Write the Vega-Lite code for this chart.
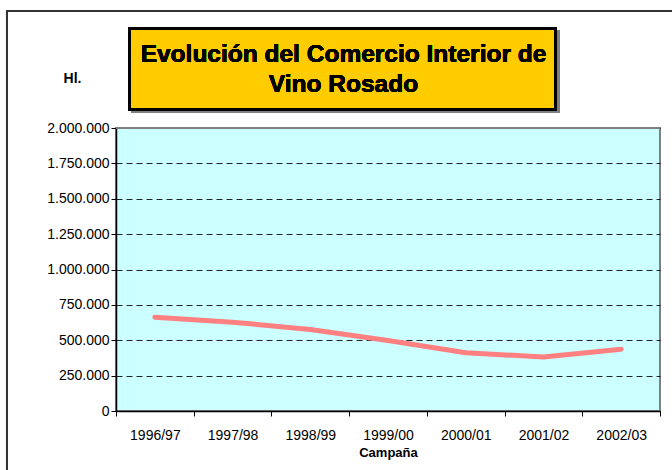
{
  "$schema": "https://vega.github.io/schema/vega-lite/v6.json",
  "width": 544,
  "height": 283,
  "autosize": "none",
  "padding": {"left": 116, "top": 128, "right": 12, "bottom": 59},
  "background": "white",
  "config": {
    "font": "Liberation Sans",
    "view": {"fill": "#CCFFFF", "stroke": "#808080", "strokeWidth": 2},
    "locale": {"number": {"decimal": ",", "thousands": ".", "grouping": [3], "currency": ["", " €"]}}
  },
  "data": {
    "values": [
      {"Campaña": "1996/97", "Hl": 663000},
      {"Campaña": "1997/98", "Hl": 628000},
      {"Campaña": "1998/99", "Hl": 576000},
      {"Campaña": "1999/00", "Hl": 498000},
      {"Campaña": "2000/01", "Hl": 411000},
      {"Campaña": "2001/02", "Hl": 382000},
      {"Campaña": "2002/03", "Hl": 437000}
    ]
  },
  "resolve": {"scale": {"x": "independent"}, "axis": {"y": "independent", "x": "independent"}},
  "layer": [
    {
      "mark": {"type": "line", "color": "#FF8080", "strokeWidth": 5, "strokeCap": "round", "strokeJoin": "round"},
      "encoding": {
        "x": {
          "field": "Campaña", "type": "ordinal", "sort": null,
          "scale": {"type": "band", "paddingInner": 0, "paddingOuter": 0},
          "axis": {
            "title": "Campaña", "titleFontSize": 13, "titleFontWeight": "bold", "titleColor": "#000", "titlePadding": 4,
            "labelAngle": 0, "labelFontSize": 14, "labelColor": "#000", "labelPadding": 12,
            "tickBand": "extent", "tickSize": 5, "tickColor": "#000", "domainColor": "#000", "domainWidth": 1.5, "grid": false
          }
        },
        "y": {
          "field": "Hl", "type": "quantitative",
          "scale": {"domain": [0, 2000000], "nice": false},
          "axis": {
            "title": "Hl.", "titleAngle": 0, "titleX": -44, "titleY": -46, "titleAlign": "center", "titleBaseline": "alphabetic",
            "titleFontSize": 14, "titleFontWeight": "bold", "titleColor": "#000",
            "values": [0, 250000, 500000, 750000, 1000000, 1250000, 1500000, 1750000, 2000000],
            "labelOverlap": false,
            "format": ",.0f", "labelFontSize": 14, "labelColor": "#000", "labelPadding": 2,
            "tickSize": 5, "tickColor": "#000", "domainColor": "#000", "domainWidth": 1.5,
            "grid": true, "gridColor": "#000", "gridDash": [6, 4], "gridOpacity": 0.85
          }
        }
      }
    },
    {
      "layer": [
        {
          "mark": {"type": "rule", "color": "#808080", "strokeWidth": 2},
          "encoding": {
            "x": {"datum": 0, "type": "quantitative", "scale": {"domain": [0, 1], "nice": false, "zero": false}, "axis": null},
            "x2": {"datum": 1},
            "y": {"datum": 2000000, "type": "quantitative", "axis": null}
          }
        },
        {
          "mark": {"type": "rect", "fill": "none", "stroke": "#333333", "strokeWidth": 2},
          "encoding": {
            "x": {"datum": -0.20037, "type": "quantitative", "axis": null},
            "x2": {"datum": 1.2},
            "y": {"datum": 2826840, "type": "quantitative", "axis": null},
            "y2": {"datum": -500000}
          }
        },
        {
          "mark": {"type": "rect", "fill": "#808080"},
          "encoding": {
            "x": {"datum": 0.02757, "type": "quantitative", "axis": null},
            "x2": {"datum": 0.81618},
            "y": {"datum": 2692565, "type": "quantitative", "axis": null},
            "y2": {"datum": 2106000}
          }
        },
        {
          "mark": {"type": "rect", "fill": "#FFCC00", "stroke": "#000000", "strokeWidth": 3},
          "encoding": {
            "x": {"datum": 0.02482, "type": "quantitative", "axis": null},
            "x2": {"datum": 0.8079},
            "y": {"datum": 2703166, "type": "quantitative", "axis": null},
            "y2": {"datum": 2130731}
          }
        },
        {
          "mark": {"type": "text", "text": ["Evolución del Comercio Interior de", "Vino Rosado"], "font": "Liberation Sans", "fontSize": 24.5, "fontWeight": "bold", "color": "#000", "align": "center", "baseline": "alphabetic", "lineHeight": 30},
          "encoding": {
            "x": {"datum": 0.4182, "type": "quantitative", "axis": null},
            "y": {"datum": 2468600, "type": "quantitative", "axis": null}
          }
        }
      ]
    }
  ]
}
